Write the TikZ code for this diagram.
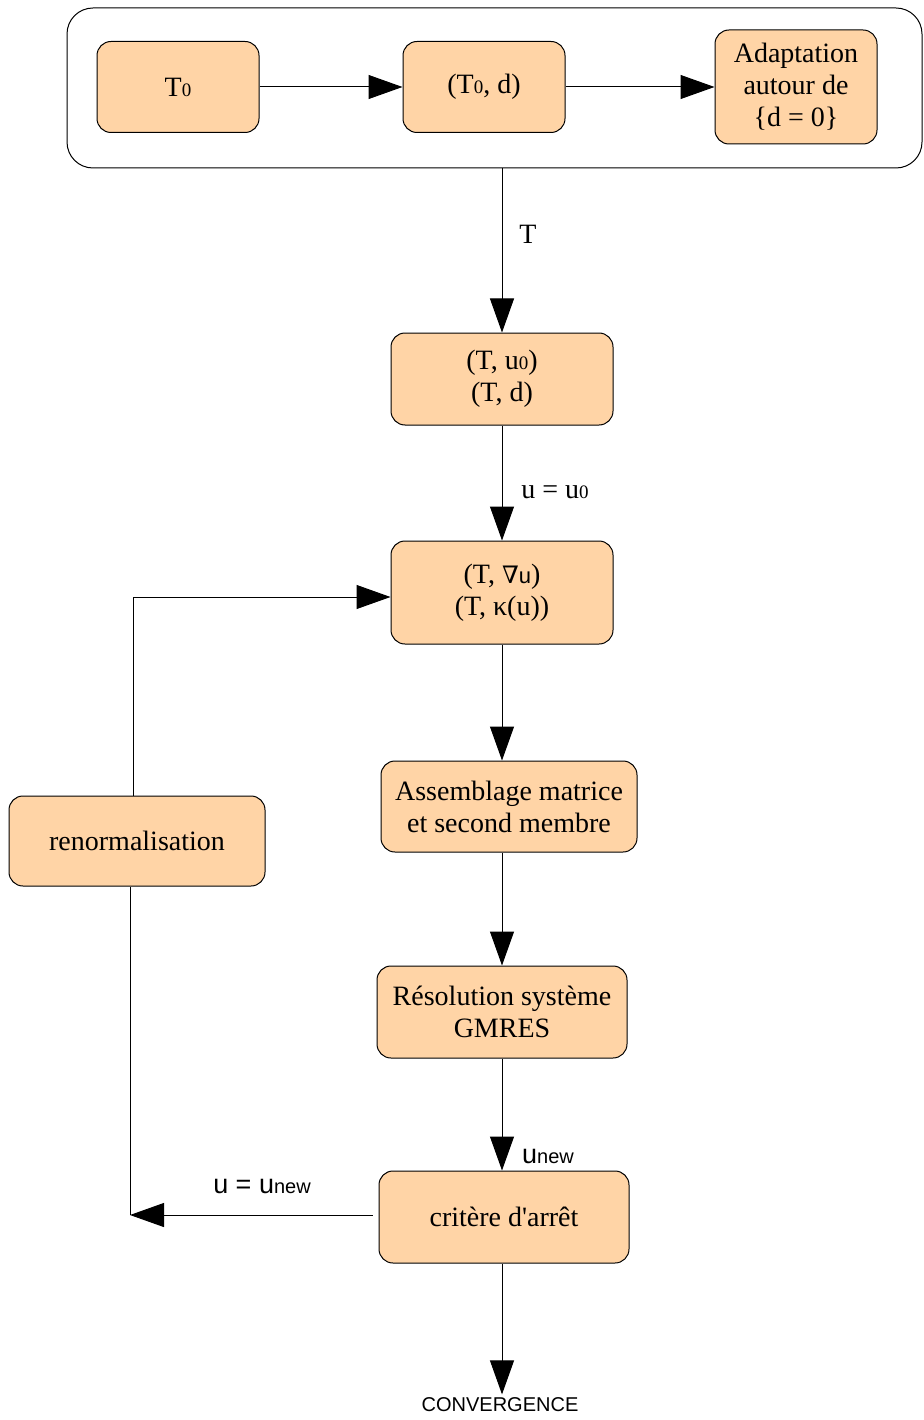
\documentclass[tikz,border=0pt]{standalone}
\usepackage{fontspec}
\setmainfont{Liberation Serif}
\setsansfont{Liberation Sans}
\newfontfamily\nablafont{DejaVu Serif}
\usetikzlibrary{arrows.meta}
\definecolor{peach}{HTML}{FFD4A6}
\newcommand{\idx}[1]{{\fontsize{19}{19}\selectfont #1}}
\newcommand{\snew}{{\sffamily\fontsize{27}{27}\selectfont u\fontsize{20}{20}\selectfont new}}

\begin{document}
\begin{tikzpicture}[x=1pt, y=-1pt,
  font=\fontsize{28}{32}\selectfont,
  b/.style={draw, rounded corners=14pt, fill=peach, align=center, inner sep=0pt, line width=1pt},
  pf/.style={line width=1pt, -{Triangle[length=34pt,width=24pt]}},
  ln/.style={line width=1pt}
]
\useasboundingbox (0,0) rectangle (923,1420);
% upper block
\node[draw, rounded corners=26pt, minimum width=855pt, minimum height=160pt, line width=1pt] (cont) at (494.5,88) {};
\node[b, minimum width=162pt, minimum height=91pt] (t0) at (178,87) {T\idx{0}};
\node[b, minimum width=162pt, minimum height=91pt] (t0d) at (484,87) {(T\idx{0}, d)};
\node[b, minimum width=162pt, minimum height=114pt] (adapt) at (796,87) {Adaptation\\autour de\\\{d = 0\}};
\draw[pf] (t0) -- (t0d);
\draw[pf] (t0d) -- (adapt);
% main chain
\node[b, minimum width=222pt, minimum height=92pt] (tu) at (502,379) {(T, u\idx{0})\\(T, d)};
\node[b, minimum width=222pt, minimum height=103pt] (grad) at (502,592.5) {(T, {\nablafont\fontsize{24}{24}\selectfont ∇}{\sffamily\fontsize{22}{22}\selectfont u})\\(T, κ(u))};
\node[b, minimum width=256pt, minimum height=91pt] (asm) at (509,806.5) {Assemblage matrice\\et second membre};
\node[b, minimum width=250pt, minimum height=92pt] (solve) at (502,1012) {Résolution système\\GMRES};
\node[b, minimum width=250pt, minimum height=92pt] (crit) at (504,1217) {critère d\textquotesingle arrêt};
\node[b, minimum width=256pt, minimum height=90pt] (renorm) at (137,841) {renormalisation};
\node[font=\sffamily\fontsize{20}{20}\selectfont] (conv) at (500,1405) {CONVERGENCE};
\coordinate (back) at (130,1215);
\draw[pf] (cont.south -| tu.north) -- (tu.north);
\node at (528,234) {T};
\draw[pf] (tu) -- (grad);
\node at (555,492) {u = u\idx{0}};
\draw[pf] (grad.south) -- (grad.south |- asm.north);
\draw[pf] (asm.south -| solve.north) -- (solve.north);
\draw[pf] (solve.south) -- (solve.south |- crit.north);
\node at (548,1156) {\snew};
\draw[pf] (crit.south -| solve.south) -- (solve.south |- conv.north);
% loop back
\draw[pf] ([xshift=-6pt]crit.west |- back) -- (back);
\node at (262,1186) {{\sffamily\fontsize{27}{27}\selectfont u = }\snew};
\draw[ln] (back) -- (back |- renorm.south);
\draw[pf] ([xshift=-4pt]renorm.north) |- (grad.west |- 0,597);
\end{tikzpicture}
\end{document}
